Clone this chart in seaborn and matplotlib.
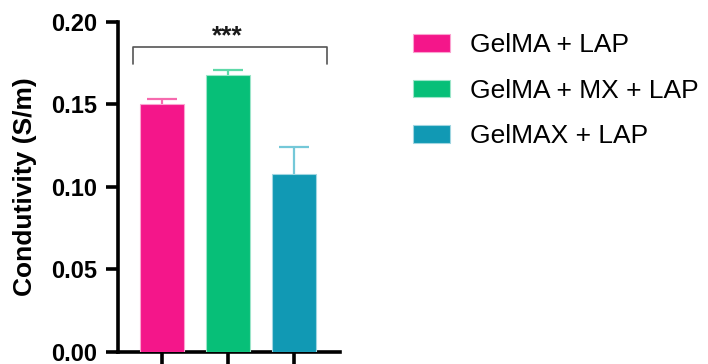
import matplotlib
matplotlib.use("Agg")
import matplotlib.pyplot as plt
from matplotlib.patches import Patch
import seaborn as sns
import numpy as np
import pandas as pd

# Conductivity measurements per hydrogel formulation (mean and upper SD)
groups = ["GelMA + LAP", "GelMA + MX + LAP", "GelMAX + LAP"]
means = [0.150, 0.168, 0.108]
sds = [0.003, 0.003, 0.016]
colors = ["#F4168A", "#07BF78", "#1199B4"]
err_colors = ["#F66AAE", "#5ED9A8", "#74C8D8"]
yticks = [0.00, 0.05, 0.10, 0.15, 0.20]
sig_label = "***"
sig_y = 0.1845


def lighten(c, f):
    rgb = np.array(matplotlib.colors.to_rgb(c))
    return tuple(rgb + (1 - rgb) * f)


sns.set_theme(style="ticks")
plt.rcParams["font.family"] = ["Liberation Sans", "DejaVu Sans"]
for key in ["text.color", "axes.labelcolor", "xtick.color", "ytick.color"]:
    plt.rcParams[key] = "black"

df = pd.DataFrame({"group": groups, "conductivity": means})

fig = plt.figure(figsize=(7.08, 3.64), dpi=100)
ax = fig.add_axes([0.166, 0.033, 0.314, 0.907])

sns.barplot(data=df, x="group", y="conductivity", hue="group",
            palette=colors, saturation=1, width=0.667, legend=False,
            errorbar=None, ax=ax, zorder=3)

# soft light outline on each bar
for patch, c in zip(ax.patches, colors):
    patch.set_edgecolor(lighten(c, 0.6))
    patch.set_linewidth(0.8)

# upper-only error bars: stem from the bar top plus a cap
cap_half = 0.23
for i, (m, s, ec) in enumerate(zip(means, sds, err_colors)):
    ax.vlines(i, m, m + s, color=ec, lw=1.6, zorder=2)
    ax.hlines(m + s, i - cap_half, i + cap_half, color=ec, lw=1.6, zorder=2)

# significance bracket between first and last group
ax.plot([-0.44, -0.44, 2.5, 2.5], [0.1745, sig_y, sig_y, 0.1745],
        color="#555555", lw=1.2, clip_on=False, zorder=4)
ax.text(1.0, 0.1838, sig_label, ha="center", va="bottom",
        fontsize=19, fontweight="bold", color="#1a1a1a")

ax.set_xlim(-0.673, 2.70)
ax.set_ylim(0, 0.20)
ax.set_yticks(yticks)
ax.set_yticklabels([f"{v:.2f}" for v in yticks], fontsize=17, fontweight="bold")
ax.set_xticks(range(len(groups)))
ax.set_xticklabels([])
ax.set_xlabel("")
ax.set_ylabel("Condutivity (S/m)", fontsize=19, fontweight="bold", labelpad=10)

for side in ["top", "right"]:
    ax.spines[side].set_visible(False)
for side in ["left", "bottom"]:
    ax.spines[side].set_linewidth(2.6)
    ax.spines[side].set_color("black")
ax.tick_params(axis="both", length=8.6, width=2.6, color="black", pad=6)

handles = [Patch(facecolor=c, edgecolor=lighten(c, 0.6), linewidth=0.8)
           for c in colors]
fig.legend(handles, groups, loc="upper left", bbox_to_anchor=(0.583, 0.908),
           frameon=False, fontsize=19, handlelength=1.4, handleheight=0.65,
           handletextpad=0.75, labelspacing=0.81, borderpad=0, borderaxespad=0)

fig.savefig("out.png", dpi=100)
